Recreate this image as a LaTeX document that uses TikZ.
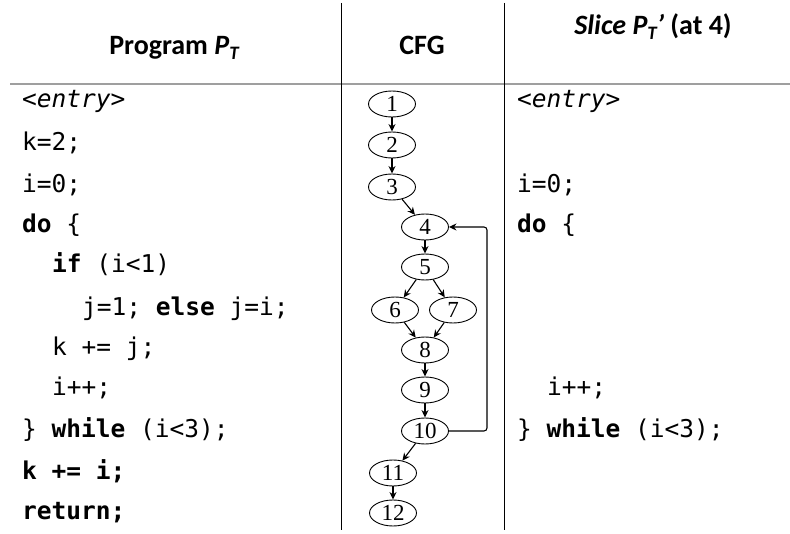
\documentclass[tikz,border=0pt]{standalone}
\usepackage{fontspec}
\setmainfont{Carlito}
\newfontfamily\codefont{DejaVu Sans Mono}
\newfontfamily\numfont{Liberation Serif}
\usetikzlibrary{arrows.meta,shapes.geometric}
\newcommand\mysubT{\raisebox{-5pt}{\fontsize{19}{19}\selectfont\itshape T}}
\begin{document}
\begin{tikzpicture}[x=1pt,y=-1pt,
  code/.style={anchor=base west, inner sep=0pt, font=\codefont\fontsize{24.5}{28}\selectfont},
  head/.style={anchor=base, inner sep=0pt, font=\fontsize{28}{32}\selectfont\bfseries},
  cfgnode/.style={ellipse, draw, line width=0.9pt, minimum width=47pt, minimum height=26pt, inner sep=0pt, font=\numfont\fontsize{23}{23}\selectfont},
  cfgedge/.style={line width=1.1pt, -{Stealth[length=7.5pt,width=7pt]}},
  rule/.style={line width=1pt, black},
  hrule/.style={line width=1.6pt, gray!75}]
\useasboundingbox (0,0) rectangle (790,534);
% table rules
\coordinate (vt1) at (341,3);   \coordinate (vb1) at (341,530);
\coordinate (vt2) at (504,3);   \coordinate (vb2) at (504,530);
\coordinate (hl) at (10,84);    \coordinate (hr) at (790,84);
\draw[hrule] (hl) -- (hr);
\draw[rule] (vt1) -- (vb1);
\draw[rule] (vt2) -- (vb2);
% headers
\node[head] (h1) at (174,55) {Program \textit{P}\mysubT};
\node[head] (h2) at (422,55) {CFG};
\node[head] (h3) at (653,35) {\textit{Slice P}\mysubT\textit{’} (at 4)};
% program code
\node[code] (c0) at (22,108) {\itshape <entry>};
\node[code] (c1) at (22,151) {k=2;};
\node[code] (c2) at (22,193) {i=0;};
\node[code] (c3) at (22,233) {\textbf{do} \{};
\node[code] (c4) at (52,273) {\textbf{if} (i<1)};
\node[code] (c5) at (82,316) {j=1; \textbf{else} j=i;};
\node[code] (c6) at (52,356) {k += j;};
\node[code] (c7) at (52,396) {i++;};
\node[code] (c8) at (22,438) {\} \textbf{while} (i<3);};
\node[code] (c9) at (22,479) {\textbf{k += i;}};
\node[code] (c10) at (22,519) {\textbf{return;}};
% slice code
\node[code] (s0) at (517,108) {\itshape <entry>};
\node[code] (s2) at (517,193) {i=0;};
\node[code] (s3) at (517,233) {\textbf{do} \{};
\node[code] (s7) at (547,396) {i++;};
\node[code] (s8) at (517,438) {\} \textbf{while} (i<3);};
% CFG
\node[cfgnode] (n1) at (392,104) {1};
\node[cfgnode] (n2) at (392,145) {2};
\node[cfgnode] (n3) at (392,187) {3};
\node[cfgnode] (n4) at (425,227) {4};
\node[cfgnode] (n5) at (425,267) {5};
\node[cfgnode] (n6) at (395,310) {6};
\node[cfgnode] (n7) at (453,310) {7};
\node[cfgnode] (n8) at (425,350) {8};
\node[cfgnode] (n9) at (425,390) {9};
\node[cfgnode] (n10) at (425,431) {10};
\node[cfgnode] (n11) at (393,473) {11};
\node[cfgnode] (n12) at (393,513) {12};
\draw[cfgedge] (n1) -- (n2);
\draw[cfgedge] (n2) -- (n3);
\draw[cfgedge] (n3) -- (n4);
\draw[cfgedge] (n4) -- (n5);
\draw[cfgedge] (n5) -- (n6);
\draw[cfgedge] (n5) -- (n7);
\draw[cfgedge] (n6) -- (n8);
\draw[cfgedge] (n7) -- (n8);
\draw[cfgedge] (n8) -- (n9);
\draw[cfgedge] (n9) -- (n10);
\draw[cfgedge] (n10) -- (n11);
\draw[cfgedge] (n11) -- (n12);
\coordinate (back) at (487,0);
\draw[cfgedge, rounded corners=3pt] (n10.east) -- (n10.east -| back) -- (n4.east -| back) -- (n4.east);
\end{tikzpicture}
\end{document}
